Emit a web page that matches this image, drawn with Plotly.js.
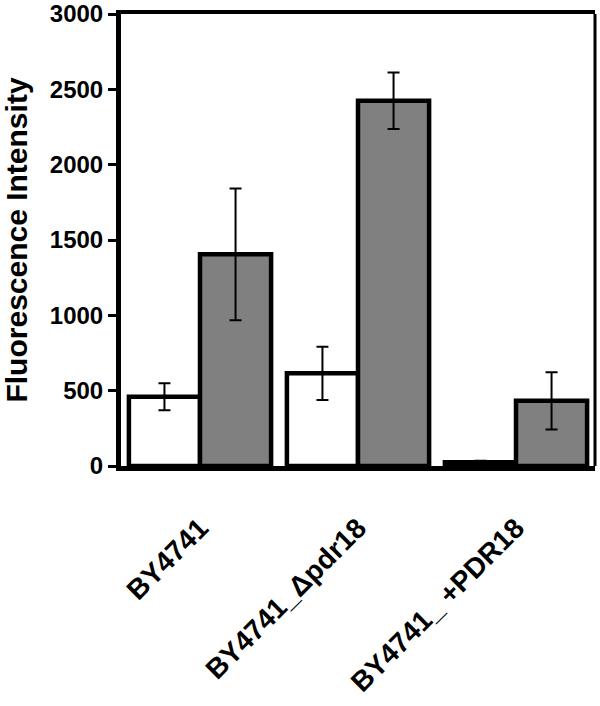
<!DOCTYPE html>
<html>
<head>
<meta charset="utf-8">
<script src="https://cdn.plot.ly/plotly-3.0.1.min.js"></script>
<style>
  html, body { margin: 0; padding: 0; background: #fff; }
  #chart { width: 600px; height: 706px; }
</style>
</head>
<body>
<div id="chart"></div>
<script>
// ---- data ----
const categories = ["BY4741", "BY4741_Δpdr18", "BY4741_ +PDR18"];
const seriesA = [460, 615, 25];        // white bars
const seriesAErr = [90, 177, 10];
const seriesB = [1405, 2424, 433];     // grey bars
const seriesBErr = [437, 188, 190];
const yTickVals = [0, 500, 1000, 1500, 2000, 2500, 3000];
const yTitle = "Fluorescence Intensity";

const FONT = "Liberation Sans, Arial, Helvetica, sans-serif";

const errStyle = (arr) => ({
  type: "data", array: arr, visible: true,
  color: "#000", thickness: 2, width: 6
});

const traces = [
  {
    type: "bar", name: "A", x: categories, y: seriesA,
    marker: { color: "#ffffff", line: { color: "#000", width: 4.5 } },
    error_y: errStyle(seriesAErr), hoverinfo: "skip"
  },
  {
    type: "bar", name: "B", x: categories, y: seriesB,
    marker: { color: "#808080", line: { color: "#000", width: 4.5 } },
    error_y: errStyle(seriesBErr), hoverinfo: "skip"
  }
];

const layout = {
  width: 600, height: 706,
  margin: { l: 121, r: 5, t: 14, b: 240 },
  paper_bgcolor: "#fff", plot_bgcolor: "#fff",
  showlegend: false,
  barmode: "group", bargap: 0.1, bargroupgap: 0,
  font: { family: FONT, color: "#000" },
  xaxis: {
    type: "category",
    showline: true, linecolor: "#000", linewidth: 4.5, mirror: true,
    ticks: "", showgrid: false, zeroline: false,
    tickangle: -45,
    tickfont: { family: FONT, size: 28, weight: "bold", color: "#000" },
    ticklabelstandoff: 30
  },
  yaxis: {
    range: [0, 3000],
    tickvals: yTickVals,
    ticktext: yTickVals.map(String),
    showline: true, linecolor: "#000", linewidth: 5, mirror: false,
    ticks: "outside", ticklen: 8, tickwidth: 3, tickcolor: "#000",
    showgrid: false, zeroline: false,
    tickfont: { family: FONT, size: 24, weight: "bold", color: "#000" },
    title: { text: yTitle, font: { family: FONT, size: 30, weight: "bold", color: "#000" }, standoff: 16 }
  },
  shapes: [
    { type: "line", xref: "paper", yref: "paper", x0: 1, x1: 1, y0: 0, y1: 1,
      line: { color: "#000", width: 3 } }
  ]
};

Plotly.newPlot("chart", traces, layout, { staticPlot: true, displayModeBar: false });
</script>
</body>
</html>
